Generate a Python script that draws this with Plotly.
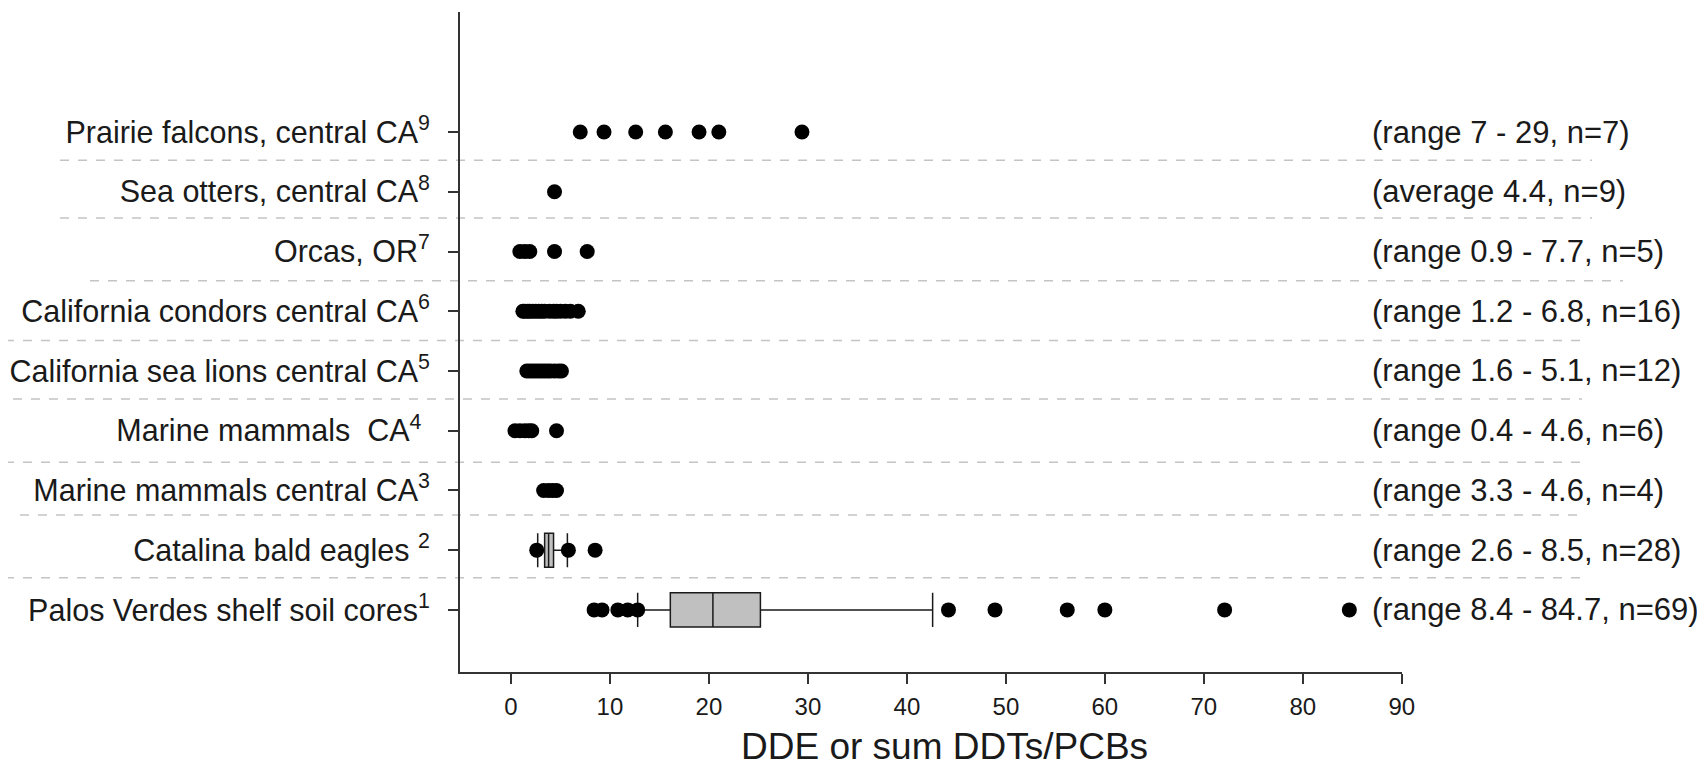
import plotly.graph_objects as go

# ---- data ----
categories = [
    "Palos Verdes shelf soil cores<sup>1</sup>",
    "Catalina bald eagles <sup>2</sup>",
    "Marine mammals central CA<sup>3</sup>",
    "Marine mammals  CA<sup>4</sup> ",
    "California sea lions central CA<sup>5</sup>",
    "California condors central CA<sup>6</sup>",
    "Orcas, OR<sup>7</sup>",
    "Sea otters, central CA<sup>8</sup>",
    "Prairie falcons, central CA<sup>9</sup>",
]
notes = [
    "(range 8.4 - 84.7, n=69)",
    "(range 2.6 - 8.5, n=28)",
    "(range 3.3 - 4.6, n=4)",
    "(range 0.4 - 4.6, n=6)",
    "(range 1.6 - 5.1, n=12)",
    "(range 1.2 - 6.8, n=16)",
    "(range 0.9 - 7.7, n=5)",
    "(average 4.4, n=9)",
    "(range 7 - 29, n=7)",
]
points = [
    [8.4, 9.2, 10.8, 11.8, 12.8, 44.2, 48.9, 56.2, 60.0, 72.1, 84.7],
    [2.6, 5.8, 8.5],
    [3.3, 3.8, 4.2, 4.6],
    [0.4, 0.9, 1.4, 1.8, 2.1, 4.6],
    [1.6, 1.9, 2.2, 2.5, 2.8, 3.1, 3.4, 3.7, 4.0, 4.4, 4.8, 5.1],
    [1.2, 1.4, 1.7, 1.9, 2.2, 2.5, 2.8, 3.1, 3.4, 3.9, 4.3, 4.6, 5.0, 5.5, 6.0, 6.8],
    [0.9, 1.4, 1.9, 4.4, 7.7],
    [4.4],
    [7.0, 9.4, 12.6, 15.6, 19.0, 21.0, 29.4],
]
# box statistics (category index, lower whisker, q1, median, q3, upper whisker)
box_pos = [0, 1]
box_low = [12.8, 2.7]
box_q1 = [16.1, 3.4]
box_med = [20.4, 3.8]
box_q3 = [25.2, 4.3]
box_high = [42.6, 5.7]
x_ticks = [0, 10, 20, 30, 40, 50, 60, 70, 80, 90]

# ---- layout constants (pixels, reference frame; page body has an 8px margin) ----
OFF = 8
W, H = 1705 - OFF, 770 - OFF
PLOT_L, PLOT_R, PLOT_T, PLOT_B = 460, 1402, 12, 672   # plot area in reference pixels
L = PLOT_L - OFF
R = W - (PLOT_R - OFF)
T = PLOT_T - OFF
B = H - (PLOT_B - OFF)
PW = PLOT_R - PLOT_L
PH = PLOT_B - PLOT_T
FONT = "Liberation Sans, Arial, sans-serif"
TXT = "#1a1a1a"

def px_to_paper_x(px):
    return (px - PLOT_L) / PW

def px_to_paper_y(py):
    return (PLOT_B - py) / PH

fig = go.Figure()

for i in range(len(box_pos)):
    fig.add_trace(go.Box(
        y=[box_pos[i]], q1=[box_q1[i]], median=[box_med[i]], q3=[box_q3[i]],
        lowerfence=[box_low[i]], upperfence=[box_high[i]],
        orientation="h", boxpoints=False, width=0.57, whiskerwidth=1,
        fillcolor="#c0c0c0", line=dict(color="#1a1a1a", width=1.5),
        showlegend=False, hoverinfo="skip",
    ))

xs, ys = [], []
for i, vals in enumerate(points):
    for v in vals:
        xs.append(v)
        ys.append(i)
fig.add_trace(go.Scatter(
    x=xs, y=ys, mode="markers",
    marker=dict(color="#000000", size=15, line=dict(width=0)),
    showlegend=False, hoverinfo="skip",
))

# dashed separators: (y in data units, left px, right px)
seps = [(7.53, 60, 1592), (6.56, 60, 1592), (5.51, 90, 1623), (4.51, 5, 1583),
        (3.53, 13, 1582), (2.47, 5, 1583), (1.59, 20, 1578), (0.54, 5, 1583)]
shapes = []
for yv, x0, x1 in seps:
    shapes.append(dict(type="line", xref="paper", yref="y",
                       x0=px_to_paper_x(x0), x1=px_to_paper_x(x1), y0=yv, y1=yv,
                       line=dict(color="#c4c4c4", width=1.5, dash="dash"), layer="below"))

annotations = []
for i, t in enumerate(notes):
    annotations.append(dict(text=t, xref="paper", yref="y", x=px_to_paper_x(1370), y=i,
                            xanchor="left", yanchor="middle", showarrow=False,
                            font=dict(family=FONT, size=31, color=TXT)))
annotations.append(dict(text="DDE or sum DDTs/PCBs", xref="paper", yref="paper",
                        x=px_to_paper_x(944), y=px_to_paper_y(769),
                        xanchor="center", yanchor="bottom", showarrow=False,
                        font=dict(family=FONT, size=37, color=TXT)))

fig.update_layout(
    width=W, height=H,
    margin=dict(l=L, r=R, t=T, b=B, pad=0, autoexpand=False),
    paper_bgcolor="white", plot_bgcolor="white",
    shapes=shapes, annotations=annotations,
    font=dict(family=FONT, color=TXT),
    xaxis=dict(range=[-5.15, 90.02], tickvals=x_ticks, ticktext=[str(v) for v in x_ticks],
               automargin=False,
               showgrid=False, zeroline=False, showline=True, linecolor="#333333",
               linewidth=2, ticks="outside", ticklen=10, tickwidth=1.5, tickcolor="#333333",
               tickfont=dict(family=FONT, size=24, color=TXT), ticklabelstandoff=2),
    yaxis=dict(range=[-1.04, 10.01], tickvals=list(range(len(categories))), ticktext=categories,
               automargin=False,
               showgrid=False, zeroline=False, showline=True, linecolor="#333333",
               linewidth=2, ticks="outside", ticklen=10, tickwidth=1.5, tickcolor="#333333",
               tickfont=dict(family=FONT, size=30.5, color=TXT), ticklabelstandoff=12),
)

fig.write_html("out.html")
